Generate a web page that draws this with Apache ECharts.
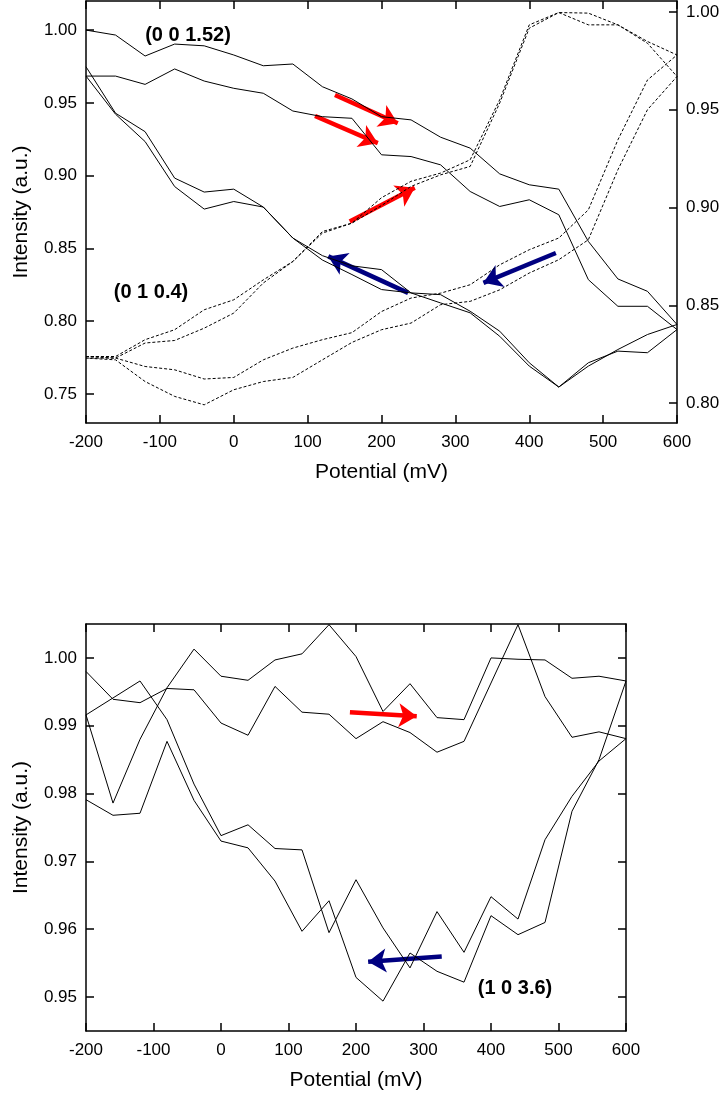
<!DOCTYPE html>
<html>
<head>
<meta charset="utf-8">
<script src="https://cdn.jsdelivr.net/npm/echarts@6/dist/echarts.min.js"></script>
<style>
html,body{margin:0;padding:0;background:#fff;}
#c{width:725px;height:1096px;}
</style>
</head>
<body>
<div id="c"></div>
<script>
// Potential sweep points (mV)
const potential = [-200,-160,-120,-80,-40,0,40,80,120,160,200,240,280,320,360,400,440,480,520,560,600];
const xTicks = [-200,-100,0,100,200,300,400,500,600];

// Top panel, (0 0 1.52) solid, left axis; forward sweeps and return sweeps (values listed by ascending potential)
const r0152Fwd1 = [1.000,0.9966,0.9822,0.9904,0.9892,0.9829,0.9755,0.9767,0.9611,0.9527,0.9405,0.9383,0.9264,0.9189,0.9012,0.8937,0.8907,0.8548,0.8290,0.8205,0.7977];
const r0152Ret1 = [0.9748,0.9429,0.9302,0.8983,0.8887,0.8907,0.8784,0.8571,0.8450,0.8380,0.8354,0.8194,0.8182,0.8068,0.7931,0.7714,0.7547,0.7691,0.7805,0.7908,0.7977];
const r0152Fwd2 = [0.9684,0.9684,0.9627,0.9733,0.9650,0.9600,0.9566,0.9444,0.9405,0.9394,0.9143,0.9131,0.9074,0.8891,0.8788,0.8834,0.8731,0.8285,0.8102,0.8102,0.7942];
const r0152Ret2 = [0.9684,0.9422,0.9234,0.8925,0.8770,0.8822,0.8784,0.8571,0.8420,0.8320,0.8217,0.8194,0.8125,0.8057,0.7896,0.7691,0.7547,0.7714,0.7794,0.7783,0.7942];

// Top panel, (0 1 0.4) dashed, right axis
const r0104Fwd1 = [0.8238,0.8238,0.8324,0.8375,0.8477,0.8528,0.8630,0.8724,0.8869,0.8920,0.9050,0.9134,0.9176,0.9244,0.9551,0.9934,0.9997,0.9994,0.9934,0.9849,0.9780];
const r0104Ret1 = [0.8238,0.8230,0.8187,0.8170,0.8123,0.8131,0.8221,0.8281,0.8324,0.8360,0.8468,0.8537,0.8562,0.8605,0.8707,0.8784,0.8844,0.8988,0.9346,0.9652,0.9780];
const r0104Fwd2 = [0.8230,0.8230,0.8307,0.8320,0.8383,0.8460,0.8614,0.8724,0.8877,0.8920,0.9010,0.9108,0.9167,0.9210,0.9534,0.9917,0.9997,0.9934,0.9934,0.9840,0.9670];
const r0104Ret2 = [0.8230,0.8221,0.8110,0.8034,0.7991,0.8068,0.8110,0.8131,0.8221,0.8310,0.8375,0.8409,0.8503,0.8520,0.8579,0.8665,0.8733,0.8835,0.9193,0.9500,0.9670];

// Bottom panel, (1 0 3.6)
const r1036Fwd1 = [0.9980,0.9939,0.9934,0.9955,0.9953,0.9904,0.9886,0.9958,0.9920,0.9917,0.9881,0.9906,0.9890,0.9861,0.9877,0.9963,1.0049,0.9943,0.9883,0.9891,0.9881];
const r1036Ret1 = [0.9916,0.9941,0.9966,0.9909,0.9814,0.9738,0.9754,0.9719,0.9717,0.9595,0.9673,0.9602,0.9543,0.9626,0.9566,0.9648,0.9615,0.9732,0.9796,0.9848,0.9881];
const r1036Fwd2 = [0.9916,0.9786,0.9880,0.9956,1.0013,0.9973,0.9967,0.9997,1.0006,1.0049,1.0002,0.9921,0.9962,0.9912,0.9909,1.0000,0.9998,0.9997,0.9970,0.9973,0.9966];
const r1036Ret2 = [0.9791,0.9768,0.9771,0.9877,0.9790,0.9730,0.9720,0.9671,0.9597,0.9642,0.9529,0.9494,0.9565,0.9538,0.9522,0.9620,0.9592,0.9610,0.9774,0.9850,0.9966];

// Tick labels
const topLeftTicks = [0.75,0.80,0.85,0.90,0.95,1.00];
const topRightTicks = [0.80,0.85,0.90,0.95,1.00];
const bottomTicks = [0.95,0.96,0.97,0.98,0.99,1.00];

// Sweep-direction arrows [[x1,y1],[x2,y2]] in data units
const topRedArrows = [[[137,0.9554],[222,0.9360]], [[110,0.9410],[195,0.9223]], [[157,0.8685],[245,0.8916]]];
const topBlueArrows = [[[236,0.8194],[128,0.8445]], [[436,0.8468],[338,0.8263]]];
const bottomRedArrows = [[[191,0.9920],[290,0.9914]]];
const bottomBlueArrows = [[[327,0.9560],[218,0.9552]]];

const labels = {top1: '(0 0 1.52)', top2: '(0 1 0.4)', bottom: '(1 0 3.6)'};

function loop(fwd, ret) {
  const a = potential.map((p, i) => [p, fwd[i]]);
  const b = potential.map((p, i) => [p, ret[i]]).reverse();
  return a.concat(b);
}

const FONT = "'Liberation Sans', Arial, sans-serif";
const axisLineStyle = {color: '#000', width: 1.5};

function xAx(grid, pos, show) {
  return {
    type: 'value', gridIndex: grid, position: pos, min: -200, max: 600, interval: 100,
    axisLine: {show: true, onZero: false, lineStyle: axisLineStyle},
    axisTick: {show: true, inside: true, length: 8, lineStyle: axisLineStyle},
    axisLabel: {show: show, color: '#000', fontSize: 17, fontFamily: FONT, margin: 11},
    splitLine: {show: false},
    name: show ? 'Potential (mV)' : '', nameLocation: 'middle', nameGap: 39,
    nameTextStyle: {color: '#000', fontSize: 21, fontFamily: FONT}
  };
}
function yAx(grid, pos, min, max, ticks, showLabel, name) {
  return {
    type: 'value', gridIndex: grid, position: pos, min: min, max: max,
    axisLine: {show: true, onZero: false, lineStyle: axisLineStyle},
    axisTick: {show: true, inside: true, length: 8, lineStyle: axisLineStyle, customValues: ticks},
    axisLabel: {show: showLabel, color: '#000', fontSize: 17, fontFamily: FONT, margin: 9,
      customValues: ticks, formatter: v => Number(v).toFixed(2)},
    splitLine: {show: false},
    name: name || '', nameLocation: 'middle', nameGap: 54,
    nameTextStyle: {color: '#000', fontSize: 21, fontFamily: FONT}
  };
}

function lineSeries(data, xi, yi, dashed) {
  return {
    type: 'line', xAxisIndex: xi, yAxisIndex: yi, data: data,
    showSymbol: false, symbol: 'none', smooth: false, silent: true, animation: false,
    lineStyle: {color: '#000', width: 1, type: dashed ? [3, 2] : 'solid'}
  };
}
function arrowSeries(arrs, color, xi, yi) {
  return {
    type: 'lines', coordinateSystem: 'cartesian2d', xAxisIndex: xi, yAxisIndex: yi,
    data: arrs.map(a => ({coords: a})),
    symbol: ['none', 'arrow'], symbolSize: 18, silent: true, animation: false,
    lineStyle: {color: color, width: 4.5, opacity: 1, curveness: 0}
  };
}

const chart = echarts.init(document.getElementById('c'), null, {renderer: 'canvas'});
chart.setOption({
  animation: false,
  backgroundColor: '#fff',
  grid: [
    {left: 86, top: 1, width: 591, height: 422, outerBoundsMode: 'none', containLabel: false},
    {left: 86, top: 624, width: 540, height: 407, outerBoundsMode: 'none', containLabel: false}
  ],
  xAxis: [
    xAx(0, 'bottom', true), xAx(0, 'top', false),
    xAx(1, 'bottom', true), xAx(1, 'top', false)
  ],
  yAxis: [
    yAx(0, 'left', 0.73, 1.02, topLeftTicks, true, 'Intensity (a.u.)'),
    yAx(0, 'right', 0.7898, 1.0056, topRightTicks, true, ''),
    yAx(1, 'left', 0.945, 1.005, bottomTicks, true, 'Intensity (a.u.)'),
    yAx(1, 'right', 0.945, 1.005, bottomTicks, false, '')
  ],
  series: [
    lineSeries(loop(r0152Fwd1, r0152Ret1), 0, 0, false),
    lineSeries(loop(r0152Fwd2, r0152Ret2), 0, 0, false),
    lineSeries(loop(r0104Fwd1, r0104Ret1), 0, 1, true),
    lineSeries(loop(r0104Fwd2, r0104Ret2), 0, 1, true),
    lineSeries(loop(r1036Fwd1, r1036Ret1), 2, 2, false),
    lineSeries(loop(r1036Fwd2, r1036Ret2), 2, 2, false),
    arrowSeries(topRedArrows, '#ff0000', 0, 0),
    arrowSeries(topBlueArrows, '#000080', 0, 0),
    arrowSeries(bottomRedArrows, '#ff0000', 2, 2),
    arrowSeries(bottomBlueArrows, '#000080', 2, 2)
  ],
  graphic: [
    {type: 'text', x: 188, y: 35, style: {text: labels.top1, fill: '#000', font: "bold 20px " + FONT, textAlign: 'center', textVerticalAlign: 'middle'}},
    {type: 'text', x: 151, y: 292, style: {text: labels.top2, fill: '#000', font: "bold 20px " + FONT, textAlign: 'center', textVerticalAlign: 'middle'}},
    {type: 'text', x: 515, y: 988, style: {text: labels.bottom, fill: '#000', font: "bold 20px " + FONT, textAlign: 'center', textVerticalAlign: 'middle'}}
  ]
});
</script>
</body>
</html>
